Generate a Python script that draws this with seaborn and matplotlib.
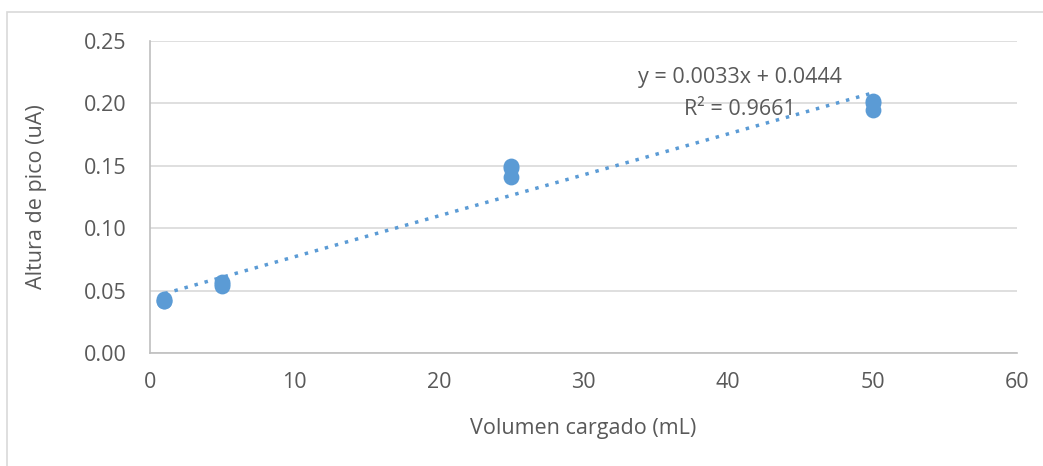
import numpy as np
import matplotlib
matplotlib.use("Agg")
import matplotlib.pyplot as plt
from matplotlib.patches import Rectangle
import seaborn as sns

# ---------------- 数据 ----------------
volumen = [1, 1, 1, 5, 5, 5, 25, 25, 25, 50, 50, 50]
altura = [0.042, 0.042, 0.043, 0.054, 0.055, 0.057, 0.141, 0.148, 0.150, 0.195, 0.200, 0.202]
x_ticks = [0, 10, 20, 30, 40, 50, 60]
y_ticks = [0.00, 0.05, 0.10, 0.15, 0.20, 0.25]
ecuacion = "y = 0.0033x + 0.0444"
r2_texto = "R² = 0.9661"

sns.set_style("white")
plt.rcParams['font.family'] = ['Open Sans', 'DejaVu Sans']

azul = "#5B9BD5"
gris_texto = "#595959"
fs = 15.5

fig = plt.figure(figsize=(10.43, 4.66), dpi=100)
ax = fig.add_axes([150 / 1043, 1 - 353 / 466, (1017 - 150) / 1043, (353 - 41) / 466])

# marco exterior del gráfico
fig.patches.append(Rectangle((7 / 1043, -0.1), 1.2, (466 - 12) / 466 + 0.1,
                             transform=fig.transFigure, fill=False,
                             edgecolor="#d9d9d9", linewidth=1.2))

# línea de tendencia
sns.regplot(x=volumen, y=altura, ax=ax, ci=None, truncate=True, scatter=False,
            line_kws=dict(color=azul, linestyle=(0, (1, 2)), linewidth=2.5))
sns.scatterplot(x=volumen, y=altura, ax=ax, color=azul, s=130, edgecolor=azul,
                linewidth=0, zorder=3)

ax.set_xlim(0, 60)
ax.set_ylim(0, 0.25)
ax.set_xticks(x_ticks)
ax.set_yticks(y_ticks)
ax.set_yticklabels([f"{v:.2f}" for v in y_ticks])
ax.tick_params(axis="both", length=0, labelsize=fs, colors=gris_texto)
ax.tick_params(axis="x", pad=14)
ax.tick_params(axis="y", pad=17)
ax.yaxis.grid(True, color="#d9d9d9", linewidth=1.2)
ax.set_axisbelow(True)
for lado in ["top", "right"]:
    ax.spines[lado].set_visible(False)
for lado in ["left", "bottom"]:
    ax.spines[lado].set_color("#bfbfbf")
    ax.spines[lado].set_linewidth(1.2)

ax.set_xlabel("Volumen cargado (mL)", fontsize=fs, color=gris_texto, labelpad=18)
ax.set_ylabel("Altura de pico (uA)", fontsize=fs, color=gris_texto, labelpad=26)

ax.text(40.8, 0.221, ecuacion, ha="center", va="center", fontsize=fs, color=gris_texto)
ax.text(40.8, 0.195, r2_texto, ha="center", va="center", fontsize=fs, color=gris_texto)

fig.savefig("out.png", dpi=100)
